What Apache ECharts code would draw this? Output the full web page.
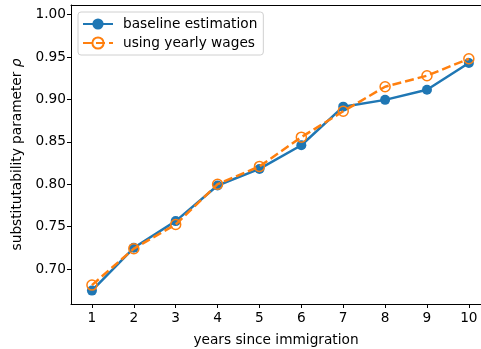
<!DOCTYPE html>
<html><head><meta charset="utf-8">
<script src="https://cdn.jsdelivr.net/npm/echarts@6/dist/echarts.min.js"></script>
<style>html,body{margin:0;padding:0;background:#fff}#c{width:481px;height:349px}</style>
</head><body><div id="c"></div>
<script>
const years = [1,2,3,4,5,6,7,8,9,10];
const baseline = [0.6745,0.7250,0.7565,0.7985,0.8180,0.8460,0.8915,0.8995,0.9115,0.9430];
const yearly = [0.6810,0.7240,0.7525,0.8000,0.8210,0.8555,0.8860,0.9150,0.9280,0.9480];
const xTicks = [1,2,3,4,5,6,7,8,9,10];
const yTicks = [0.70,0.75,0.80,0.85,0.90,0.95,1.00];
const seriesNames = ['baseline estimation','using yearly wages'];

const font = 'DejaVu Sans';
const fs = 13.7;
const chart = echarts.init(document.getElementById('c'), null, {renderer:'canvas'});
const pair = (xs, ys) => xs.map((x,i)=>[x, ys[i]]);
chart.setOption({
  animation:false,
  backgroundColor:'#fff',
  textStyle:{fontFamily:font},
  grid:{left:71, top:5, right:0, bottom:45, containLabel:false, outerBoundsMode:'none'},
  legend:{
    left:78, top:12, orient:'vertical',
    backgroundColor:'#fff', borderColor:'#d0d0d0', borderWidth:1, borderRadius:3,
    padding:[5,6,5,4], itemGap:5, itemWidth:30, itemHeight:14,
    textStyle:{fontFamily:font, fontSize:fs, color:'#000', padding:[0,0,0,5]},
    data:seriesNames
  },
  xAxis:[{
    type:'value', min:0.5, max:10.29,
    name:'years since immigration', nameLocation:'middle', nameGap:29,
    nameTextStyle:{fontFamily:font, fontSize:fs, color:'#000'},
    axisLine:{show:true, onZero:false, lineStyle:{color:'#000', width:1}},
    axisTick:{show:true, length:4, lineStyle:{color:'#000'}, customValues:xTicks},
    axisLabel:{fontFamily:font, fontSize:fs, color:'#000', margin:7, customValues:xTicks, formatter:v=>String(v)},
    splitLine:{show:false}
  },{
    type:'value', position:'top', min:0.5, max:10.29,
    axisLine:{show:true, onZero:false, lineStyle:{color:'#000', width:1}},
    axisTick:{show:false}, axisLabel:{show:false}, splitLine:{show:false}
  }],
  yAxis:{
    type:'value', min:0.6587, max:1.0114,
    name:'substitutability parameter {i|ρ}', nameLocation:'middle', nameGap:46, nameRotate:90,
    nameTextStyle:{fontFamily:font, fontSize:fs, color:'#000',
      rich:{i:{fontFamily:font, fontSize:fs, fontStyle:'italic', color:'#000'}}},
    axisLine:{show:true, onZero:false, lineStyle:{color:'#000', width:1}},
    axisTick:{show:true, length:4, lineStyle:{color:'#000'}, customValues:yTicks},
    axisLabel:{fontFamily:font, fontSize:fs, color:'#000', margin:5, customValues:yTicks, formatter:v=>v.toFixed(2)},
    splitLine:{show:false}
  },
  series:[{
    name:seriesNames[0], type:'line', data:pair(years, baseline),
    symbol:'circle', symbolSize:10,
    lineStyle:{color:'#1f77b4', width:2.5},
    itemStyle:{color:'#1f77b4'}, z:2
  },{
    name:seriesNames[1], type:'line', data:pair(years, yearly),
    symbol:'circle', symbolSize:10,
    lineStyle:{color:'#ff7f0e', width:2.5, type:[9,4]},
    itemStyle:{color:'rgba(255,255,255,0)', borderColor:'#ff7f0e', borderWidth:1.5}, z:3
  }]
});
</script></body></html>
